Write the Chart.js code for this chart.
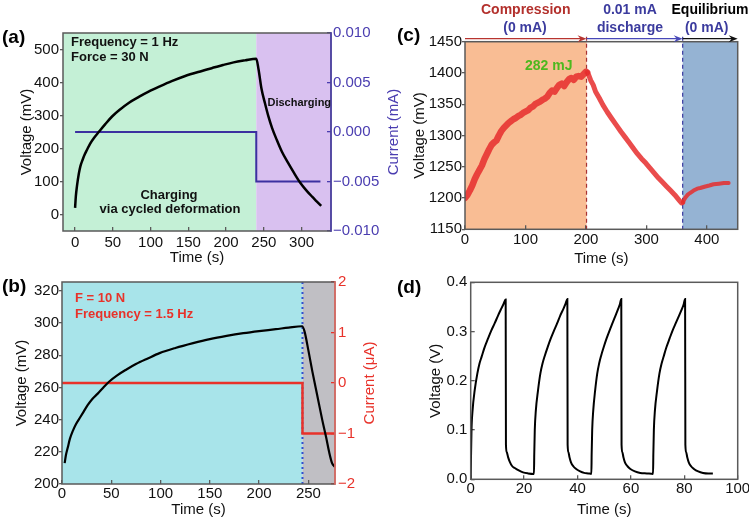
<!DOCTYPE html>
<html><head><meta charset="utf-8">
<script src="https://cdn.jsdelivr.net/npm/chart.js@4.4.1/dist/chart.umd.min.js"></script>
<style>
html,body{margin:0;padding:0;background:#fff;width:749px;height:523px;overflow:hidden;position:relative;}
canvas{position:absolute;}
</style></head><body>
<canvas id="ca" width="410" height="270" style="left:0;top:0"></canvas>
<canvas id="cb" width="410" height="261" style="left:0;top:262px"></canvas>
<canvas id="cc" width="389" height="270" style="left:380px;top:0"></canvas>
<canvas id="cd" width="389" height="261" style="left:380px;top:262px"></canvas>
<script>
// ---------- Panel (a) ----------
const aVoltTime = [0, 1, 2.5, 5, 7, 10, 13, 16, 20, 25, 31, 40, 49, 60, 71, 85, 98, 113, 128, 145, 168, 185, 196, 210, 225, 240, 243, 247, 251, 256, 261, 267, 274, 282, 290, 298, 306, 314, 320, 326];
const aVoltage  = [20, 55, 86, 124, 146, 166, 183, 197, 215, 232, 249, 274, 297, 319, 338, 357, 373, 389, 404, 419, 435, 446, 453, 461, 467, 472, 440, 380, 342, 298, 262, 227, 190, 157, 126, 97, 74, 54, 40, 26];
const aCurTime  = [0, 240, 240, 325];
const aCurrent  = [0, 0, -0.005, -0.005];
const aPhases   = [-16, 240, 339];           // charging | discharging
const aXTicks   = [0, 50, 100, 150, 200, 250, 300];
const aYTicks   = [0, 100, 200, 300, 400, 500];
const aY2Ticks  = [-0.01, -0.005, 0, 0.005, 0.01];

// ---------- Panel (b) ----------
const bVoltTime = [2.7, 4, 6, 8, 11, 14, 18, 22, 26, 31, 36, 42, 48, 56, 65, 75, 87, 99, 115, 133, 150, 167, 184, 200, 217, 230, 243.6, 246, 250, 254, 259, 264, 268, 271, 274, 277];
const bVoltage  = [213, 218, 223, 228, 233, 237, 241, 245, 249, 253, 256, 260, 263.7, 267.5, 271, 274.5, 278, 281.3, 284.5, 287.5, 290, 292, 293.7, 295, 296.2, 297.2, 298, 295, 283, 270, 255, 240, 229, 220, 213, 210.5];
const bCurTime  = [0, 244, 244, 277];
const bCurrent  = [0, 0, -1, -1];
const bPhases   = [0, 244, 277];
const bXTicks   = [0, 50, 100, 150, 200, 250];
const bYTicks   = [200, 220, 240, 260, 280, 300, 320];
const bY2Ticks  = [-2, -1, 0, 1, 2];

// ---------- Panel (c) ----------
const cTime = [0, 4, 8, 12, 16, 20, 24, 28, 32, 36, 40, 44, 48, 52, 56, 60, 64, 68, 72, 76, 80, 84, 88, 92, 96, 100, 104, 108, 112, 116, 120, 124, 128, 132, 136, 140, 144, 148, 152, 156, 160, 164, 168, 172, 176, 180, 184, 188, 192, 196, 200, 202,
  204, 208, 212, 216, 222, 228, 235, 242, 250, 258, 265, 272, 278, 285, 292, 299, 306, 313, 320, 326, 333, 340, 347, 353, 358,
  360, 364, 368, 372, 378, 384, 389, 396, 404, 411, 420, 428, 436];
const cVolt = [1200, 1205, 1212, 1220, 1230, 1238, 1245, 1252, 1262, 1270, 1278, 1285, 1289, 1292, 1300, 1307, 1312, 1316, 1320, 1323, 1326, 1328, 1331, 1333, 1336, 1338, 1340, 1344, 1346, 1350, 1352, 1354, 1357, 1359, 1362, 1368, 1372, 1370, 1376, 1381, 1383, 1379, 1385, 1390, 1392, 1389, 1394, 1395, 1394, 1398, 1402, 1401,
  1398, 1388, 1381, 1370, 1360, 1349, 1338, 1328, 1317, 1306, 1297, 1288, 1280, 1271, 1263, 1256, 1248, 1240, 1232, 1226, 1219, 1212, 1205, 1198, 1192,
  1193, 1200, 1205, 1208, 1212, 1215, 1216, 1218, 1220, 1222, 1223, 1224, 1224];
const cPhases  = [0, 201, 360, 451];
const cXTicks  = [0, 100, 200, 300, 400];
const cYTicks  = [1150, 1200, 1250, 1300, 1350, 1400, 1450];

// ---------- Panel (d) ----------
const dTime = [0, 0.1, 0.3, 0.7, 1.5, 2.5, 3.3, 4.1, 5.2, 6.5, 7.7, 9, 10.2, 11.5, 12.3, 13.1,
  13.2, 13.5, 14.0, 14.6, 15.5, 16.5, 18, 19.6, 21.5, 23.7,
  23.8, 24.0, 24.4, 25.2, 26.1, 26.9, 27.7, 28.8, 30.0, 31.2, 32.4, 33.5, 34.8, 35.5, 36.2,
  36.3, 36.6, 37.0, 37.6, 38.5, 39.5, 41, 42.5, 44, 45.2,
  45.3, 45.5, 45.9, 46.6, 47.4, 48.1, 48.8, 49.8, 50.9, 52, 53.1, 54.2, 55.3, 55.9, 56.4,
  56.5, 56.8, 57.2, 57.8, 58.8, 59.8, 61.5, 63.5, 66, 68.3,
  68.4, 68.6, 69, 69.8, 70.7, 71.5, 72.3, 73.3, 74.5, 75.6, 76.8, 78, 79.2, 79.8, 80.3,
  80.4, 80.7, 81.1, 81.7, 82.6, 83.6, 85.2, 87, 89, 90.7];
const dVolt = [0.0, 0.04, 0.1, 0.14, 0.181, 0.215, 0.235, 0.249, 0.268, 0.286, 0.302, 0.317, 0.332, 0.347, 0.356, 0.365,
  0.07, 0.055, 0.045, 0.036, 0.027, 0.023, 0.018, 0.014, 0.012, 0.011,
  0.05, 0.1, 0.14, 0.18, 0.215, 0.235, 0.25, 0.268, 0.286, 0.302, 0.317, 0.332, 0.347, 0.356, 0.366,
  0.07, 0.055, 0.045, 0.034, 0.026, 0.021, 0.016, 0.013, 0.012, 0.011,
  0.05, 0.1, 0.14, 0.18, 0.215, 0.235, 0.25, 0.268, 0.286, 0.302, 0.317, 0.332, 0.347, 0.356, 0.366,
  0.07, 0.055, 0.045, 0.034, 0.026, 0.021, 0.016, 0.013, 0.012, 0.011,
  0.05, 0.1, 0.14, 0.18, 0.215, 0.235, 0.25, 0.268, 0.286, 0.302, 0.317, 0.332, 0.347, 0.356, 0.366,
  0.07, 0.055, 0.045, 0.034, 0.026, 0.021, 0.016, 0.013, 0.012, 0.012];
const dXTicks = [0, 20, 40, 60, 80, 100];
const dYTicks = [0, 0.1, 0.2, 0.3, 0.4];

// ---------- shared ----------
const FF = "'Liberation Sans', Arial, Helvetica, sans-serif";
Chart.defaults.font.family = FF;
Chart.defaults.font.size = 15;
Chart.defaults.color = '#111';
const pts = (xs, ys) => xs.map((x, i) => ({x, y: ys[i]}));
const minus = s => s.replace('-', '\u2212');

const deco = {
  id: 'deco',
  beforeDraw(chart, args, o) {
    const {ctx, chartArea: a} = chart; const x = chart.scales.x;
    ctx.save();
    for (const b of (o.bands || [])) {
      const x1 = Math.max(a.left, x.getPixelForValue(b.from));
      const x2 = Math.min(a.right, x.getPixelForValue(b.to));
      ctx.fillStyle = b.color;
      ctx.fillRect(x1, a.top, x2 - x1, a.bottom - a.top);
    }
    ctx.restore();
  },
  beforeDatasetsDraw(chart, args, o) {
    const {ctx, chartArea: a} = chart; const x = chart.scales.x;
    ctx.save();
    for (const v of (o.vlines || [])) {
      const px = x.getPixelForValue(v.x);
      ctx.strokeStyle = v.color; ctx.lineWidth = v.width; ctx.setLineDash(v.dash);
      ctx.beginPath(); ctx.moveTo(px, a.top - (v.ext || 0)); ctx.lineTo(px, a.bottom); ctx.stroke();
    }
    ctx.restore();
  },
  afterDraw(chart, args, o) {
    const {ctx, chartArea: a} = chart; const x = chart.scales.x;
    ctx.save();
    ctx.setLineDash([]);
    ctx.strokeStyle = '#5a5a5a'; ctx.lineWidth = 1.5;
    ctx.strokeRect(a.left, a.top, a.right - a.left, a.bottom - a.top);
    if (o.rightColor) {
      ctx.strokeStyle = o.rightColor;
      ctx.beginPath(); ctx.moveTo(a.right, a.top - 0.75); ctx.lineTo(a.right, a.bottom + 0.75); ctx.stroke();
    }
    for (const ar of (o.arrows || [])) {
      const x1 = x.getPixelForValue(ar.from), x2 = x.getPixelForValue(ar.to);
      const y = a.top - ar.dy;
      ctx.strokeStyle = ar.color; ctx.fillStyle = ar.color; ctx.lineWidth = 1.3;
      ctx.beginPath(); ctx.moveTo(x1, y); ctx.lineTo(x2 - 5, y); ctx.stroke();
      ctx.beginPath(); ctx.moveTo(x2, y); ctx.lineTo(x2 - 9, y - 3.5); ctx.lineTo(x2 - 6, y); ctx.lineTo(x2 - 9, y + 3.5); ctx.closePath(); ctx.fill();
    }
    for (const t of (o.texts || [])) {
      ctx.font = t.f; ctx.fillStyle = t.c; ctx.textAlign = t.al || 'left'; ctx.textBaseline = 'alphabetic';
      ctx.fillText(t.t, t.x, t.y);
    }
    if (o.rightTitle) {
      const r = o.rightTitle;
      ctx.translate(r.x, (a.top + a.bottom) / 2);
      ctx.rotate(-Math.PI / 2);
      ctx.font = "15px " + FF; ctx.fillStyle = r.c; ctx.textAlign = 'center'; ctx.textBaseline = 'middle';
      ctx.fillText(r.t, 0, 0);
    }
    ctx.restore();
  }
};
Chart.register(deco);

function axis(o) {
  const col = o.color || '#111';
  return {
    type: 'linear', position: o.pos, min: o.min, max: o.max,
    border: {display: false},
    grid: {display: true, drawOnChartArea: false, drawTicks: true, tickLength: o.tl, color: o.tickColor || '#5a5a5a', tickColor: o.tickColor || '#5a5a5a', lineWidth: 1.3},
    ticks: {padding: o.pad, color: col, font: {size: o.fs || 15}, autoSkip: false, maxRotation: 0, minRotation: 0, callback: (v) => o.fmt(v)},
    afterBuildTicks: (s) => { s.ticks = o.ticks.map(v => ({value: v})); },
    afterFit: (s) => { if (o.width != null) s.width = o.width; if (o.height != null) s.height = o.height; },
    title: o.title ? {display: true, text: o.title, color: col, font: {size: o.tfs || 15, lineHeight: 1.2}, padding: o.tpad} : {display: false}
  };
}
function base(padding, scales, deco) {
  return {
    responsive: false, animation: false, maintainAspectRatio: false,
    layout: {padding},
    plugins: {legend: {display: false}, tooltip: {enabled: false}, deco},
    scales
  };
}
const B13 = "bold 13px " + FF, B14 = "bold 14px " + FF, B19 = "bold 19px " + FF;

// (a)
new Chart(document.getElementById('ca'), {
  type: 'line',
  data: {datasets: [
    {data: pts(aVoltTime, aVoltage), yAxisID: 'y', borderColor: '#000', borderWidth: 2.5, pointRadius: 0, cubicInterpolationMode: 'monotone'},
    {data: pts(aCurTime, aCurrent), yAxisID: 'y2', borderColor: '#3C30A0', borderWidth: 2, pointRadius: 0, tension: 0}
  ]},
  options: base({top: 33, left: 0, right: 0, bottom: 0}, {
    x: axis({pos: 'bottom', min: aPhases[0], max: aPhases[2], ticks: aXTicks, fmt: v => String(v), tl: -4, pad: 7.2, height: 39, title: 'Time (s)', tpad: {top: 0, bottom: 3}}),
    y: axis({pos: 'left', min: -50, max: 550, ticks: aYTicks, fmt: v => String(v), tl: 3, pad: 1, width: 63, title: 'Voltage (mV)', tpad: {top: 17.5, bottom: 0}}),
    y2: axis({pos: 'right', min: -0.01, max: 0.01, ticks: aY2Ticks, fmt: v => minus(v.toFixed(3)), tl: -4, pad: 6, width: 79, color: '#4A3DB0', tickColor: '#4A3DB0'})
  }, {
    bands: [{from: aPhases[0], to: aPhases[1], color: '#C4F0D6'}, {from: aPhases[1], to: aPhases[2], color: '#D9C1F0'}],
    rightColor: '#4A3DB0',
    rightTitle: {t: 'Current (mA)', x: 393.5, c: '#4A3DB0'},
    texts: [
      {t: '(a)', x: 2, y: 43, f: B19, c: '#000'},
      {t: 'Frequency = 1 Hz', x: 71, y: 46, f: B13, c: '#111'},
      {t: 'Force = 30 N', x: 71, y: 60.5, f: B13, c: '#111'},
      {t: 'Charging', x: 169, y: 198.5, f: B13, c: '#111', al: 'center'},
      {t: 'via cycled deformation', x: 170, y: 212.5, f: B13, c: '#111', al: 'center'},
      {t: 'Discharging', x: 267.5, y: 106, f: "bold 11px " + FF, c: '#111'}
    ]
  })
});

// (b)
new Chart(document.getElementById('cb'), {
  type: 'line',
  data: {datasets: [
    {data: pts(bVoltTime, bVoltage), yAxisID: 'y', borderColor: '#000', borderWidth: 2.2, pointRadius: 0, cubicInterpolationMode: 'monotone'},
    {data: pts(bCurTime, bCurrent), yAxisID: 'y2', borderColor: '#E8322A', borderWidth: 2.5, pointRadius: 0, tension: 0}
  ]},
  options: base({top: 20, left: 0, right: 0, bottom: 0}, {
    x: axis({pos: 'bottom', min: bPhases[0], max: bPhases[2], ticks: bXTicks, fmt: v => String(v), tl: -4, pad: 4.5, height: 39, title: 'Time (s)', tpad: {top: 0, bottom: 4}}),
    y: axis({pos: 'left', min: 200, max: 325.5, ticks: bYTicks, fmt: v => String(v), tl: 3, pad: 0, width: 62, title: 'Voltage (mV)', tpad: {top: 12.7, bottom: 0}}),
    y2: axis({pos: 'right', min: -2, max: 2, ticks: bY2Ticks, fmt: v => minus(String(v)), tl: -4, pad: 7, width: 75, color: '#E8322A', tickColor: '#E8322A'})
  }, {
    bands: [{from: bPhases[0], to: bPhases[1], color: '#A8E4EA'}, {from: bPhases[1], to: bPhases[2], color: '#C0BFC4'}],
    vlines: [{x: bPhases[1], color: '#3050D0', dash: [2, 3], width: 2}],
    rightColor: '#EE6B63',
    rightTitle: {t: 'Current (\u03bcA)', x: 369.7, c: '#E8322A'},
    texts: [
      {t: '(b)', x: 2, y: 30, f: B19, c: '#000'},
      {t: 'F = 10 N', x: 75, y: 39.5, f: B13, c: '#E8322A'},
      {t: 'Frequency = 1.5 Hz', x: 75, y: 55.5, f: B13, c: '#E8322A'}
    ]
  })
});

// (c)
new Chart(document.getElementById('cc'), {
  type: 'line',
  data: {datasets: [
    {data: pts(cTime, cVolt), yAxisID: 'y', borderColor: 'rgba(230,45,45,0.85)', borderWidth: 5, pointRadius: 0, tension: 0, borderJoinStyle: 'round', borderCapStyle: 'round',
     segment: {
       borderWidth: c => c.p0.parsed.x < cPhases[1] ? 6.5 : (c.p0.parsed.x < cPhases[2] ? 5 : 4)
     }}
  ]},
  options: base({top: 41.7, left: 0, right: 31.3, bottom: 0}, {
    x: axis({pos: 'bottom', min: cPhases[0], max: cPhases[3], ticks: cXTicks, fmt: v => String(v), tl: -4, pad: 5.4, height: 40.7, title: 'Time (s)', tpad: {top: 0, bottom: 2}}),
    y: axis({pos: 'left', min: 1150, max: 1450, ticks: cYTicks, fmt: v => String(v), tl: 3, pad: 0, width: 85, title: 'Voltage (mV)', tpad: {top: 31, bottom: 0}})
  }, {
    bands: [{from: cPhases[0], to: cPhases[1], color: '#F9BD94'}, {from: cPhases[2], to: cPhases[3], color: '#95B3D3'}],
    vlines: [{x: cPhases[1], color: '#A83232', dash: [4, 3], width: 1.2, ext: 5}, {x: cPhases[2], color: '#3A3AA0', dash: [4, 3], width: 1.2, ext: 5}],
    arrows: [
      {from: cPhases[0], to: cPhases[1], dy: 3, color: '#B8342F'},
      {from: cPhases[1], to: cPhases[2], dy: 3, color: '#4848B8'},
      {from: cPhases[2], to: cPhases[3], dy: 3, color: '#111'}
    ],
    texts: [
      {t: '(c)', x: 17, y: 41, f: B19, c: '#000'},
      {t: '282 mJ', x: 145, y: 70, f: B14, c: '#4DB81E'},
      {t: 'Compression', x: 145.7, y: 13.5, f: B14, c: '#B3302C', al: 'center'},
      {t: '(0 mA)', x: 145, y: 31.5, f: B14, c: '#3B3B9E', al: 'center'},
      {t: '0.01 mA', x: 250, y: 13.5, f: B14, c: '#3B3B9E', al: 'center'},
      {t: 'discharge', x: 250, y: 31.5, f: B14, c: '#3B3B9E', al: 'center'},
      {t: 'Equilibrium', x: 330, y: 13.5, f: B14, c: '#000', al: 'center'},
      {t: '(0 mA)', x: 326.7, y: 31.5, f: B14, c: '#3B3B9E', al: 'center'}
    ]
  })
});

// (d)
new Chart(document.getElementById('cd'), {
  type: 'line',
  data: {datasets: [
    {data: pts(dTime, dVolt), yAxisID: 'y', borderColor: '#000', borderWidth: 2, pointRadius: 0, cubicInterpolationMode: 'monotone'}
  ]},
  options: base({top: 20.3, left: 0, right: 31.3, bottom: 0}, {
    x: axis({pos: 'bottom', min: 0, max: 100, ticks: dXTicks, fmt: v => String(v), tl: -4, pad: 5, height: 43.7, title: 'Time (s)', tpad: {top: 0, bottom: 4}}),
    y: axis({pos: 'left', min: 0, max: 0.4, ticks: dYTicks, fmt: v => v.toFixed(1), tl: -4, pad: 7.4, width: 90.7, title: 'Voltage (V)', tpad: {top: 47, bottom: 0}})
  }, {
    texts: [{t: '(d)', x: 17, y: 31, f: B19, c: '#000'}]
  })
});
</script>
</body></html>
